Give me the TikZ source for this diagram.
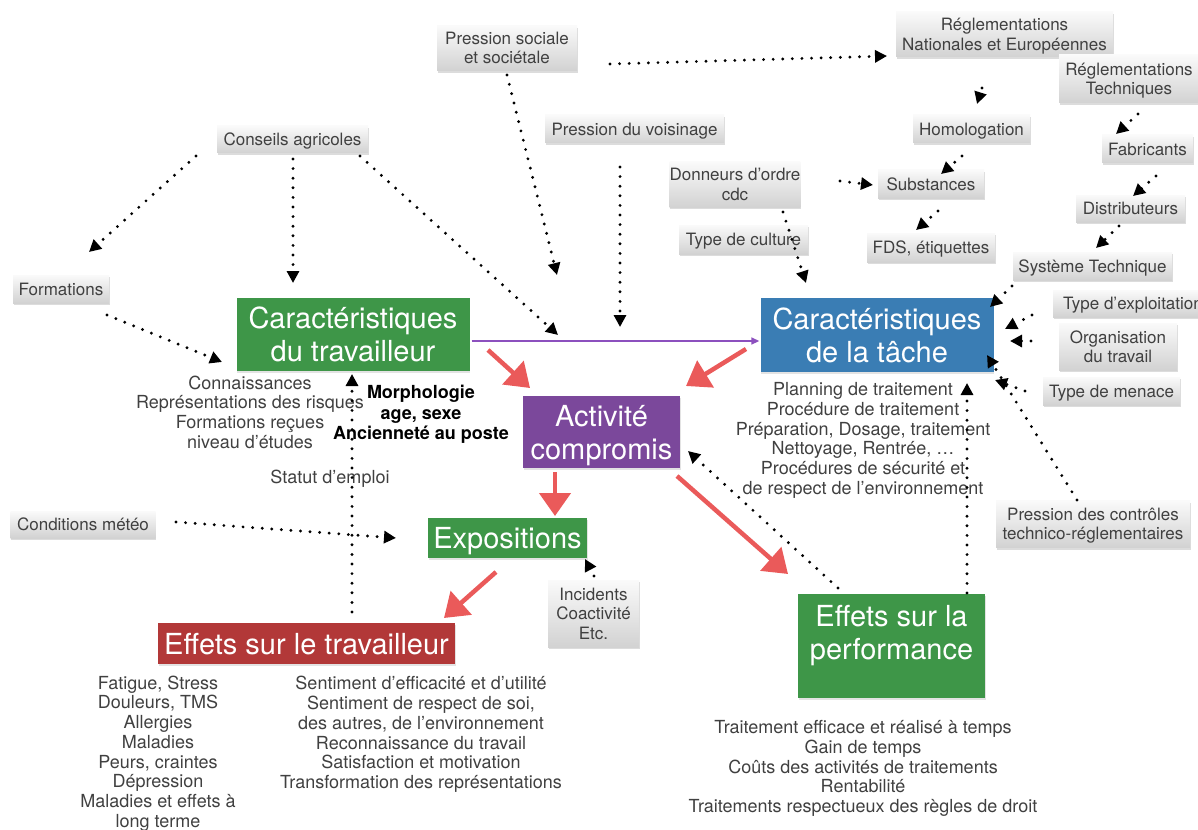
\documentclass[tikz,border=0pt]{standalone}
\usepackage{fontspec}
\setmainfont{TeX Gyre Heros}
\usetikzlibrary{arrows.meta,shadows}
\definecolor{boxtop}{RGB}{250,250,250}
\definecolor{boxbot}{RGB}{210,210,210}
\definecolor{txtgray}{RGB}{64,64,64}
\definecolor{cgreen}{RGB}{62,150,72}
\definecolor{cblue}{RGB}{58,125,180}
\definecolor{cpurple}{RGB}{123,72,155}
\definecolor{cred}{RGB}{178,56,56}
\definecolor{arrowred}{RGB}{234,90,90}
\definecolor{lineviolet}{RGB}{140,80,190}
\begin{document}
\begin{tikzpicture}[x=1pt,y=-1pt,
  graybox/.style={top color=boxtop, bottom color=boxbot, text=txtgray,
    font=\fontsize{17}{19.5}\selectfont, align=center, inner sep=0pt, text depth=0pt,
    drop shadow={shadow xshift=0.5pt, shadow yshift=-2.2pt, opacity=0.28}},
  bigtext/.style={text=white, font=\fontsize{29}{33}\selectfont, align=center,
    inner sep=0pt, text depth=0pt},
  bigbox/.style={bigtext, drop shadow={shadow xshift=0.8pt, shadow yshift=-1.5pt, opacity=0.22}},
  desc/.style={text=txtgray, font=\fontsize{18}{19.7}\selectfont, align=center,
    inner sep=0pt, text depth=0pt},
  descdark/.style={text=black, font=\bfseries\fontsize{18}{20.5}\selectfont, align=center,
    inner sep=0pt, text depth=0pt},
  dotarrow/.style={draw=black, line width=3.2pt, dash pattern=on 0pt off 9.6pt,
    line cap=round, -{Triangle[length=12pt,width=12pt]}},
  redarrow/.style={draw=arrowred, line width=4.5pt, -{Triangle[length=23pt,width=31pt]}},
  violetarrow/.style={draw=lineviolet, line width=1.6pt, -{Triangle[length=8pt,width=7pt]}}
]
\useasboundingbox (0,0) rectangle (1198,829);

% ---------- coloured boxes ----------
\node[bigbox, fill=cgreen, minimum width=233pt, minimum height=73pt] (ctrav) at (353,334.5) {Caractéristiques\\du travailleur};
\node[bigbox, fill=cblue, minimum width=233pt, minimum height=74pt] (ctache) at (877,335) {Caractéristiques\\de la tâche};
\node[bigbox, fill=cpurple, minimum width=157pt, minimum height=72pt] (activ) at (601.5,432) {Activité\\compromis};
\node[bigbox, fill=cgreen, minimum width=159pt, minimum height=40pt] (expo) at (507.5,538) {Expositions};
\node[bigbox, fill=cred, minimum width=297pt, minimum height=41pt] (etrav) at (306.5,643.5) {Effets sur le travailleur};
\node[bigbox, fill=cgreen, minimum width=187pt, minimum height=104pt] (eperf) at (891.5,646) {};
\node[bigtext] (eperftxt) at (891.5,632.5) {Effets sur la\\performance};

% ---------- grey boxes ----------
\node[graybox, minimum width=140pt, minimum height=45pt] (soc) at (507,48) {Pression sociale\\et sociétale};
\node[graybox, minimum width=217pt, minimum height=45pt] (regnat) at (1004.5,34.5) {Réglementations\\Nationales et Européennes};
\node[graybox, minimum width=140pt, minimum height=48pt] (regtech) at (1129,79) {Réglementations\\Techniques};
\node[graybox, minimum width=117pt, minimum height=28pt] (homol) at (971.5,129) {Homologation};
\node[graybox, minimum width=91pt, minimum height=28pt] (fabr) at (1147.5,149) {Fabricants};
\node[graybox, minimum width=106pt, minimum height=28pt] (subst) at (931,184) {Substances};
\node[graybox, minimum width=109pt, minimum height=27pt] (distr) at (1130.5,208.5) {Distributeurs};
\node[graybox, minimum width=128pt, minimum height=29pt] (fds) at (931,247.5) {FDS, étiquettes};
\node[graybox, minimum width=159pt, minimum height=28pt] (systech) at (1092.5,266) {Système Technique};
\node[graybox, minimum width=160pt, minimum height=27pt] (typexp) at (1133,303.5) {Type d’exploitation};
\node[graybox, minimum width=118pt, minimum height=47pt] (orga) at (1118,346.5) {Organisation\\du travail};
\node[graybox, minimum width=137pt, minimum height=28pt] (menace) at (1111.5,391) {Type de menace};
\node[graybox, minimum width=194pt, minimum height=47pt] (pctrl) at (1093,524) {Pression des contrôles\\technico-réglementaires};
\node[graybox, minimum width=151pt, minimum height=27pt] (conseils) at (292.5,139.5) {Conseils agricoles};
\node[graybox, minimum width=96pt, minimum height=28pt] (formations) at (61,289) {Formations};
\node[graybox, minimum width=179pt, minimum height=28pt] (voisin) at (634.5,129) {Pression du voisinage};
\node[graybox, minimum width=120pt, minimum height=45pt] (donneurs) at (735,184.5) {Donneurs d’ordre\\cdc};
\node[graybox, minimum width=129pt, minimum height=29pt] (culture) at (743.5,239.5) {Type de culture};
\node[graybox, minimum width=145pt, minimum height=27pt] (meteo) at (83,524.5) {Conditions météo};
\node[graybox, minimum width=91pt, minimum height=67pt] (incid) at (593.5,613.5) {Incidents\\Coactivité\\Etc.};

% ---------- descriptive texts ----------
\node[desc] (travattr) at (250,412) {Connaissances\\Représentations des risques\\Formations reçues\\niveau d’études};
\node[descdark] (morph) at (421,412.5) {Morphologie\\age, sexe\\Ancienneté au poste};
\node[desc] (statut) at (330,477) {Statut d’emploi};
\node[desc] (tacheattr) at (863,438.5) {Planning de traitement\\Procédure de traitement\\Préparation, Dosage, traitement\\Nettoyage, Rentrée, …\\Procédures de sécurité et\\de respect de l’environnement};
\node[desc] (travleft) at (158,751.5) {Fatigue, Stress\\Douleurs, TMS\\Allergies\\Maladies\\Peurs, craintes\\Dépression\\Maladies et effets à\\long terme};
\node[desc] (travright) at (421,732.5) {Sentiment d’efficacité et d’utilité\\Sentiment de respect de soi,\\des autres, de l’environnement\\Reconnaissance du travail\\Satisfaction et motivation\\Transformation des représentations};
\node[desc] (perfattr) at (863,766.5) {Traitement efficace et réalisé à temps\\Gain de temps\\Coûts des activités de traitements\\Rentabilité\\Traitements respectueux des règles de droit};

% ---------- connector end points ----------
\coordinate (consA) at (196,156);   \coordinate (formTip) at (89,252);
\coordinate (consB) at (293,159);   \coordinate (ctravTop) at (293,283);
\coordinate (consC) at (360,156);   \coordinate (centreTip) at (558,335);
\coordinate (formA) at (107,315);   \coordinate (ctravLeft) at (222,362);
\coordinate (socA) at (507,75);     \coordinate (socTip) at (557,275);
\coordinate (socB) at (610,64);     \coordinate (regnatTip) at (887,56);
\coordinate (voisA) at (620,167);   \coordinate (voisTip) at (620,327);
\coordinate (regnatA) at (982,88);  \coordinate (homolTip) at (977,104);
\coordinate (homolA) at (962,156);  \coordinate (substTipA) at (941,174);
\coordinate (donA) at (840,181);    \coordinate (substTipB) at (873,185);
\coordinate (substA) at (938,211);  \coordinate (fdsTip) at (916,230);
\coordinate (regtechA) at (1138,114); \coordinate (fabrTip) at (1116,134);
\coordinate (fabrA) at (1156,176);  \coordinate (distrTip) at (1133,196);
\coordinate (distrA) at (1119,226); \coordinate (systechTip) at (1096,248);
\coordinate (systechA) at (1012,286); \coordinate (tacheTipA) at (990,307);
\coordinate (typexpA) at (1032,315); \coordinate (tacheTipB) at (1005,329);
\coordinate (orgaA) at (1031,341);  \coordinate (tacheTipC) at (1010,341);
\coordinate (menaceA) at (1025,391); \coordinate (tacheTipD) at (995,380);
\coordinate (pctrlA) at (1077,500); \coordinate (tacheTipE) at (987,355);
\coordinate (eperfA) at (967,593);  \coordinate (tacheTipF) at (967,383);
\coordinate (eperfB) at (838,588);  \coordinate (activTip) at (688,451);
\coordinate (etravA) at (352,612);  \coordinate (ctravBot) at (352,374);
\coordinate (meteoA) at (176,522);  \coordinate (expoTipA) at (396,538);
\coordinate (incidA) at (594,576);  \coordinate (expoTipB) at (585,559);
\coordinate (donB) at (783,212);    \coordinate (tacheTipG) at (806,283);
\coordinate (redAs) at (488,350);   \coordinate (redAe) at (530,388);
\coordinate (redBs) at (746,349);   \coordinate (redBe) at (686,386);
\coordinate (redCs) at (555,472);   \coordinate (redCe) at (555,516);
\coordinate (redDs) at (496,572);   \coordinate (redDe) at (444,618);
\coordinate (redEs) at (677,476);   \coordinate (redEe) at (788,574);

% ---------- dotted connectors ----------
\draw[dotarrow] (consA) -- (formTip);
\draw[dotarrow] (consB) -- (ctravTop);
\draw[dotarrow] (consC) -- (centreTip);
\draw[dotarrow] (formA) -- (ctravLeft);
\draw[dotarrow] (socA) -- (socTip);
\draw[dotarrow] (socB) -- (regnatTip);
\draw[dotarrow] (voisA) -- (voisTip);
\draw[dotarrow] (regnatA) -- (homolTip);
\draw[dotarrow] (homolA) -- (substTipA);
\draw[dotarrow] (donA) -- (substTipB);
\draw[dotarrow] (substA) -- (fdsTip);
\draw[dotarrow] (regtechA) -- (fabrTip);
\draw[dotarrow] (fabrA) -- (distrTip);
\draw[dotarrow] (distrA) -- (systechTip);
\draw[dotarrow] (systechA) -- (tacheTipA);
\draw[dotarrow] (typexpA) -- (tacheTipB);
\draw[dotarrow] (orgaA) -- (tacheTipC);
\draw[dotarrow] (menaceA) -- (tacheTipD);
\draw[dotarrow] (pctrlA) -- (tacheTipE);
\draw[dotarrow] (eperfA) -- (tacheTipF);
\draw[dotarrow] (eperfB) -- (activTip);
\draw[dotarrow] (etravA) -- (ctravBot);
\draw[dotarrow] (meteoA) -- (expoTipA);
\draw[dotarrow] (incidA) -- (expoTipB);
\draw[dotarrow] (donB) -- (tacheTipG);

% ---------- violet connector ----------
\draw[violetarrow] ([xshift=2pt,yshift=-6.5pt]ctrav.east) -- ([xshift=-1pt,yshift=-6pt]ctache.west);

% ---------- red arrows ----------
\draw[redarrow] (redAs) -- (redAe);
\draw[redarrow] (redBs) -- (redBe);
\draw[redarrow] (redCs) -- (redCe);
\draw[redarrow] (redDs) -- (redDe);
\draw[redarrow] (redEs) -- (redEe);
\end{tikzpicture}
\end{document}
